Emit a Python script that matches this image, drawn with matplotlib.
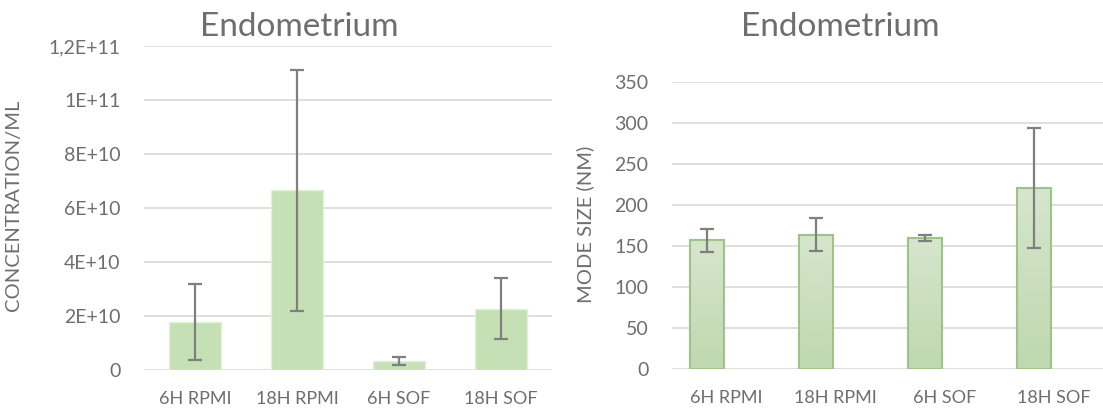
import matplotlib
matplotlib.use('Agg')
import matplotlib.pyplot as plt
import numpy as np

categories = ['6H RPMI', '18H RPMI', '6H SOF', '18H SOF']

conc = [1.78e10, 6.65e10, 3.2e9, 2.26e10]
conc_err = [1.42e10, 4.45e10, 1.45e9, 1.13e10]
conc_ticks = [0, 2e10, 4e10, 6e10, 8e10, 1e11, 1.2e11]
conc_labels = ['0', '2E+10', '4E+10', '6E+10', '8E+10', '1E+11', '1,2E+11']

mode = [157, 164, 160, 221]
mode_err = [14, 20, 4, 73]
mode_ticks = [0, 50, 100, 150, 200, 250, 300, 350]

GREY = '#6E6E6E'
plt.rcParams['font.family'] = ['Lato', 'DejaVu Sans']

W, H = 1103, 412
fig = plt.figure(figsize=(W / 100, H / 100), dpi=100)

def style(ax, ticks, labels):
    ax.set_yticks(ticks)
    ax.set_yticklabels(labels)
    ax.grid(axis='y', color='#D9D9D9', lw=1.2, zorder=0)
    ax.set_axisbelow(True)
    for s in ax.spines.values():
        s.set_visible(False)
    ax.tick_params(length=0, colors=GREY)
    ax.tick_params(axis='y', pad=17, labelsize=14)
    ax.tick_params(axis='x', pad=15, labelsize=13)
    ax.set_xticks(range(len(categories)))
    ax.set_xticklabels(categories)

# left: concentration
ax1 = fig.add_axes([144 / W, 42 / H, 408 / W, 324 / H])
x = np.arange(len(categories))
ax1.bar(x, conc, width=0.51, color='#C5E0B4', edgecolor='#E2F0D9', lw=1, zorder=2)
ax1.errorbar(x, conc, yerr=conc_err, fmt='none', ecolor='#7F7F7F', elinewidth=1.6,
             capsize=5, capthick=1.6, zorder=3)
ax1.set_xlim(-0.5, 3.5)
ax1.set_ylim(0, 1.2e11)
style(ax1, conc_ticks, conc_labels)
ax1.set_ylabel('CONCENTRATION/ML', color=GREY, fontsize=14.5, labelpad=12)
ax1.yaxis.set_label_coords(22 / W, 207 / H, transform=fig.transFigure)
fig.text(299 / W, 1 - 27 / H, 'Endometrium', ha='center', va='center',
         color=GREY, fontsize=24)

# right: mode size, bars shifted left as in a two-series cluster
ax2 = fig.add_axes([672 / W, 43 / H, 436 / W, 287 / H])
xb = x - 0.18
bars = ax2.bar(xb, mode, width=0.31, color='none', edgecolor='#9DC389', lw=1.5, zorder=3)
grad = np.linspace(0, 1, 100).reshape(-1, 1)
cmap = matplotlib.colors.LinearSegmentedColormap.from_list('g', ['#BFD8B0', '#D6E6CD'])
for b in bars:
    im = ax2.imshow(grad, cmap=cmap, origin='lower', aspect='auto', zorder=2,
                    extent=[b.get_x(), b.get_x() + b.get_width(), 0, b.get_height()])
    im.set_clip_path(b)
ax2.errorbar(xb, mode, yerr=mode_err, fmt='none', ecolor='#7F7F7F', elinewidth=1.6,
             capsize=5, capthick=1.6, zorder=4)
ax2.set_xlim(-0.5, 3.5)
ax2.set_ylim(0, 350)
style(ax2, mode_ticks, [str(t) for t in mode_ticks])
ax2.set_ylabel('MODE SIZE (NM)', color=GREY, fontsize=14.5)
ax2.yaxis.set_label_coords(594 / W, 1 - 224 / H, transform=fig.transFigure)
fig.text(840 / W, 1 - 27 / H, 'Endometrium', ha='center', va='center',
         color=GREY, fontsize=24)

fig.savefig('out.png', dpi=100)
